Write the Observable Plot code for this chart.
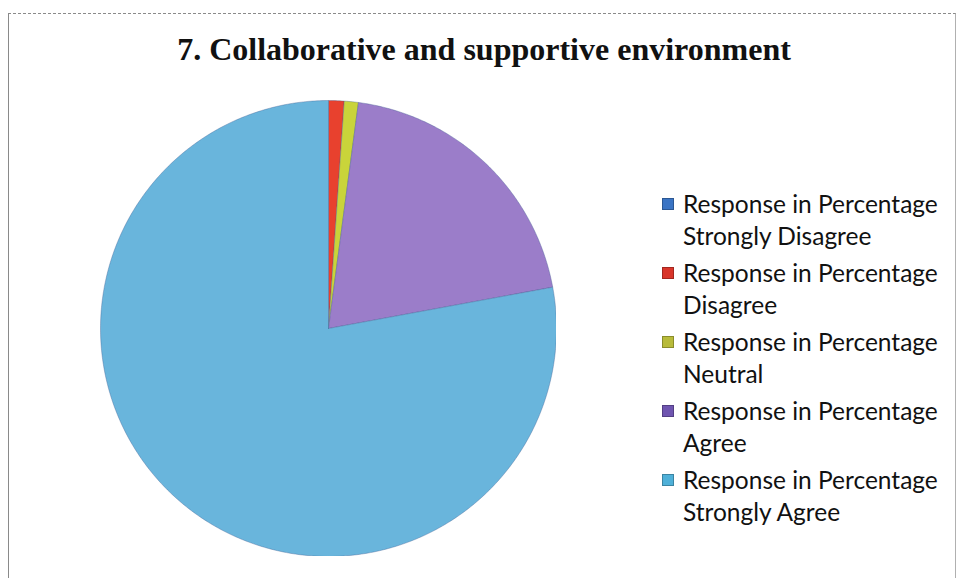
<!DOCTYPE html>
<html>
<head>
<meta charset="utf-8">
<script src="https://cdn.jsdelivr.net/npm/d3@7"></script>
<script src="https://cdn.jsdelivr.net/npm/@observablehq/plot@0.6"></script>
<style>
  html, body { margin: 0; padding: 0; background: #fff; }
  #wrap { position: relative; width: 960px; height: 578px; overflow: hidden; background: #fff; }
  #frame { position: absolute; left: 8px; top: 13px; width: 946px; height: 580px; border-top: 1px dashed #8a8a8a; border-left: 1px solid #8a8a8a; border-right: 1px solid #b0b0b0; }
  #title { position: absolute; left: 0; width: 968px; top: 31px; text-align: center; font-family: "Liberation Serif", "Times New Roman", serif; font-weight: bold; font-size: 32px; color: #111; }
  #pie { position: absolute; left: 100px; top: 100px; }
  #legend { position: absolute; left: 662px; top: 188px; font-family: Lato, "Open Sans", sans-serif; font-size: 24.5px; color: #111; }
  .item { position: relative; padding-left: 21px; line-height: 32px; margin-bottom: 5px; }
  .sw { position: absolute; left: 0; top: 10px; width: 10px; height: 10px; border: 1px solid rgba(0,0,0,0.25); }
</style>
</head>
<body>
<div id="wrap">
  <div id="frame"></div>
  <div id="title"></div>
  <div id="pie"></div>
  <div id="legend"></div>
</div>
<script>
const title = "7. Collaborative and supportive environment";
const seriesName = "Response in Percentage";
const categories = ["Strongly Disagree", "Disagree", "Neutral", "Agree", "Strongly Agree"];
const values = [0, 1.1, 1, 20, 77.9];
const sliceColors = ["#3d78c6", "#e8412e", "#c9d43a", "#9b7dc9", "#69b5dc"];
const swatchColors = ["#3a74c4", "#d9352a", "#b8bb3a", "#6f55b0", "#4fb0d8"];

document.getElementById("title").textContent = title;

const data = categories.map((c, i) => ({category: c, value: values[i]}));
const arcs = d3.pie().sort(null).value(d => d.value).startAngle(0).endAngle(2 * Math.PI)(data);

// polygon vertices for each slice (unit circle, angle clockwise from 12 o'clock)
const pts = [];
arcs.forEach(a => {
  if (a.endAngle - a.startAngle <= 0) return;
  const n = Math.max(2, Math.ceil((a.endAngle - a.startAngle) / 0.01));
  pts.push({category: a.data.category, x: 0, y: 0});
  for (let k = 0; k <= n; k++) {
    const t = a.startAngle + (a.endAngle - a.startAngle) * k / n;
    pts.push({category: a.data.category, x: Math.sin(t), y: Math.cos(t)});
  }
  pts.push({category: a.data.category, x: 0, y: 0});
});

const size = 456;
const chart = Plot.plot({
  width: size,
  height: size,
  margin: 0,
  x: {domain: [-1, 1], axis: null},
  y: {domain: [-1, 1], axis: null},
  color: {domain: categories, range: sliceColors},
  marks: [
    Plot.line(pts, {x: "x", y: "y", z: "category", fill: "category", stroke: "#3f5a8f", strokeWidth: 0.8, strokeOpacity: 0.45, curve: "linear"})
  ]
});
document.getElementById("pie").appendChild(chart);

const legend = document.getElementById("legend");
categories.forEach((c, i) => {
  const item = document.createElement("div");
  item.className = "item";
  const sw = document.createElement("span");
  sw.className = "sw";
  sw.style.background = swatchColors[i];
  item.appendChild(sw);
  const l1 = document.createElement("div");
  l1.textContent = seriesName;
  const l2 = document.createElement("div");
  l2.textContent = c;
  item.appendChild(l1);
  item.appendChild(l2);
  legend.appendChild(item);
});
</script>
</body>
</html>
